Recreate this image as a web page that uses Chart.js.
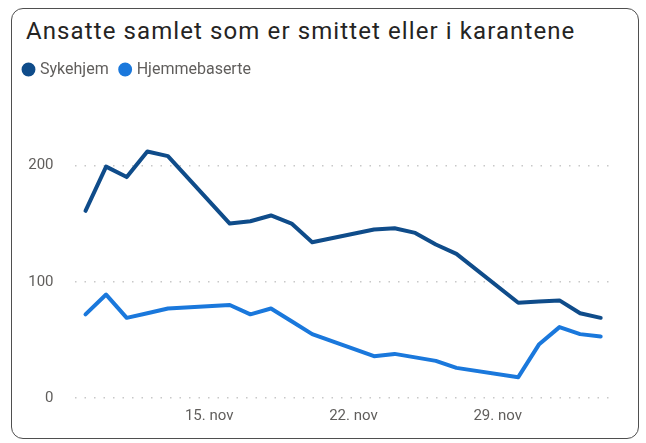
<!DOCTYPE html>
<html lang="no">
<head>
<meta charset="utf-8">
<title>Ansatte samlet som er smittet eller i karantene</title>
<script src="https://cdn.jsdelivr.net/npm/chart.js"></script>
<style>
    body {
        margin: 0;
        background: #ffffff;
        font-family: Roboto, sans-serif;
    }
    .card {
        position: absolute;
        left: 11px;
        top: 8px;
        width: 626px;
        height: 429px;
        border: 1.5px solid #4f4f4f;
        border-radius: 12px;
        background: #ffffff;
    }
    .card-title {
        position: absolute;
        left: 14px;
        top: 10px;
        font-size: 24px;
        line-height: 24px;
        letter-spacing: 1.1px;
        color: #252423;
        white-space: nowrap;
    }
    canvas {
        position: absolute;
        left: 0;
        top: 0;
    }
</style>
</head>
<body>
<div class="card">
    <div class="card-title">Ansatte samlet som er smittet eller i karantene</div>
    <canvas id="main-chart" width="626" height="429"></canvas>
</div>

<script>
// Dates (9. nov - 4. des), weekends have no reports
const dates = [
    '9. nov', '10. nov', '11. nov', '12. nov', '13. nov', '14. nov', '15. nov',
    '16. nov', '17. nov', '18. nov', '19. nov', '20. nov', '21. nov', '22. nov',
    '23. nov', '24. nov', '25. nov', '26. nov', '27. nov', '28. nov', '29. nov',
    '30. nov', '1. des', '2. des', '3. des', '4. des'
];

// Series values
const sykehjem = [
    161, 199, 190, 212, 208, null, null,
    150, 152, 157, 150, 134, null, null,
    145, 146, 142, 132, 124, null, null,
    82, 83, 84, 73, 69
];
const hjemmebaserte = [
    72, 89, 69, 73, 77, null, null,
    80, 72, 77, 66, 55, null, null,
    36, 38, 35, 32, 26, null, null,
    18, 46, 61, 55, 53
];

// Axis ticks shown
const xTickLabels = ['15. nov', '22. nov', '29. nov'];
const yTickValues = [0, 100, 200];

const darkBlue = '#0f4c8a';
const lightBlue = '#1a78dc';
const tickColor = '#605e5c';

document.addEventListener('DOMContentLoaded', function() {
    initChart();
});

function makeDataset(label, data, color) {
    return {
        label: label,
        data: data,
        borderColor: color,
        backgroundColor: color,
        borderWidth: 4,
        pointRadius: 0,
        pointHoverRadius: 0,
        tension: 0,
        spanGaps: true,
        borderJoinStyle: 'round',
        borderCapStyle: 'round',
        fill: false
    };
}

function initChart() {
    const ctx = document.getElementById('main-chart').getContext('2d');

    window.mainChart = new Chart(ctx, {
        type: 'line',
        data: {
            labels: dates,
            datasets: [
                makeDataset('Sykehjem', sykehjem, darkBlue),
                makeDataset('Hjemmebaserte', hjemmebaserte, lightBlue)
            ]
        },
        options: {
            responsive: false,
            animation: false,
            layout: {
                padding: { left: 0, right: 27, top: 39.5, bottom: 0 }
            },
            plugins: {
                title: { display: false },
                tooltip: { enabled: false },
                legend: {
                    display: true,
                    position: 'top',
                    align: 'start',
                    labels: {
                        usePointStyle: true,
                        pointStyle: 'circle',
                        boxWidth: 7,
                        boxHeight: 7,
                        padding: 13,
                        color: tickColor,
                        font: { family: 'Roboto', size: 16 }
                    }
                }
            },
            scales: {
                x: {
                    type: 'category',
                    offset: true,
                    grid: { display: false },
                    border: { display: false },
                    ticks: {
                        autoSkip: false,
                        maxRotation: 0,
                        padding: 1,
                        color: tickColor,
                        font: { family: 'Roboto', size: 15 },
                        callback: function(value) {
                            const label = this.getLabelForValue(value);
                            return xTickLabels.includes(label) ? label : null;
                        }
                    },
                    afterFit: function(axis) {
                        axis.height = 39.9;
                    }
                },
                y: {
                    min: 0,
                    max: 267,
                    grid: {
                        color: '#c8c8c8',
                        lineWidth: 1.5,
                        drawTicks: false
                    },
                    border: { display: false, dash: [1.5, 8] },
                    ticks: {
                        padding: 21.7,
                        color: tickColor,
                        font: { family: 'Roboto', size: 15 }
                    },
                    afterBuildTicks: function(axis) {
                        axis.ticks = yTickValues.map(v => ({ value: v }));
                    },
                    afterFit: function(axis) {
                        axis.width = 63.2;
                    }
                }
            }
        }
    });
}
</script>
</body>
</html>
